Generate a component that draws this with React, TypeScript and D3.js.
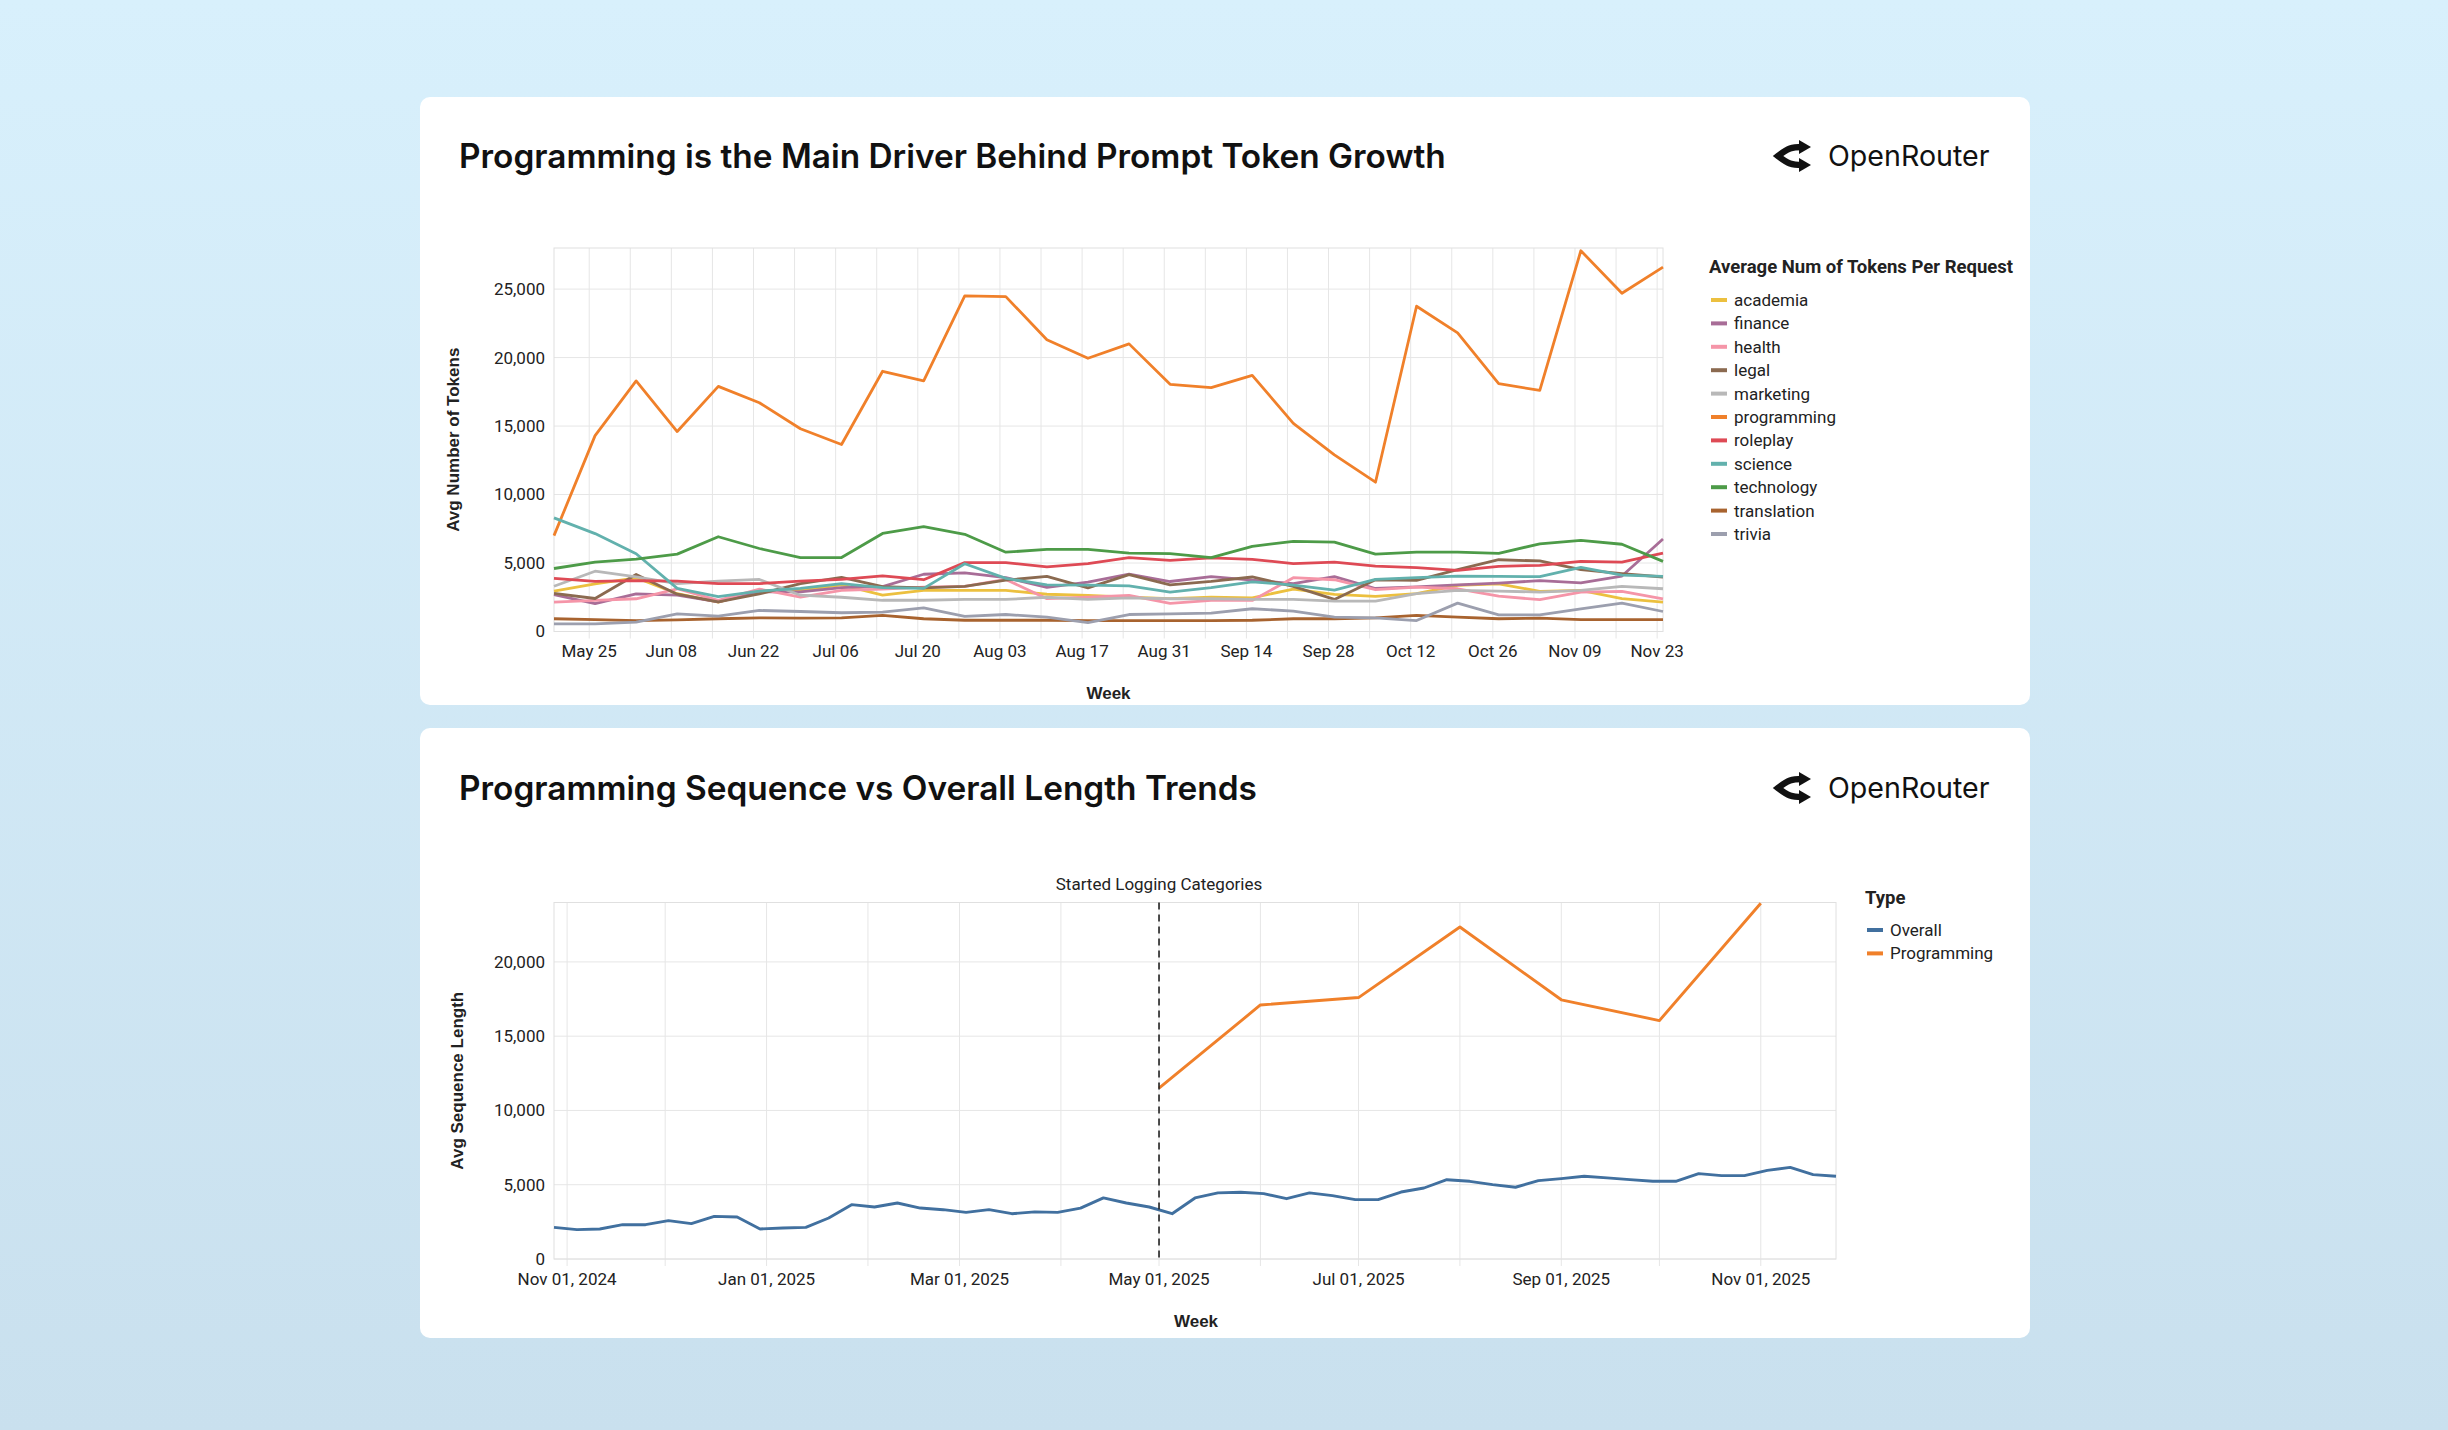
import React from "react";
import * as d3 from "d3";

// ---------- data: top chart (weekly, Monday starts) ----------
const topWeeks = [
  "2025-05-19", "2025-05-26", "2025-06-02", "2025-06-09", "2025-06-16", "2025-06-23", "2025-06-30",
  "2025-07-07", "2025-07-14", "2025-07-21", "2025-07-28", "2025-08-04", "2025-08-11", "2025-08-18",
  "2025-08-25", "2025-09-01", "2025-09-08", "2025-09-15", "2025-09-22", "2025-09-29", "2025-10-06",
  "2025-10-13", "2025-10-20", "2025-10-27", "2025-11-03", "2025-11-10", "2025-11-17", "2025-11-24",
];

const categories = [
  "academia", "finance", "health", "legal", "marketing", "programming",
  "roleplay", "science", "technology", "translation", "trivia",
];

const categoryColors = [
  "#ecc03f", "#a86d97", "#f595a8", "#8b6a50", "#b8b8b8", "#f0802a",
  "#de4a55", "#62b1ad", "#4d9b48", "#a8632f", "#9c9fae",
];

const academia = [2950, 3480, 3920, 2760, 2150, 3000, 3000, 3400, 2650, 3000, 3000, 3000, 2720, 2640, 2500, 2400, 2500, 2460, 3100, 2710, 2560, 2760, 3370, 3480, 2930, 3000, 2400, 2150];
const finance = [2700, 2030, 2750, 2650, 2170, 2900, 2900, 3200, 3280, 4180, 4280, 3930, 3220, 3600, 4190, 3650, 4000, 3750, 3500, 4000, 3140, 3260, 3400, 3530, 3710, 3550, 4050, 6750];
const health = [2150, 2270, 2390, 3120, 2270, 3100, 2510, 3000, 3100, 3240, 3290, 3800, 2400, 2500, 2630, 2050, 2270, 2270, 3930, 3780, 3050, 3240, 3120, 2590, 2320, 2880, 2930, 2390];
const legal = [2780, 2410, 4160, 2720, 2170, 2740, 3500, 3950, 3280, 3180, 3300, 3750, 4020, 3180, 4150, 3410, 3660, 3980, 3290, 2340, 3780, 3730, 4510, 5240, 5150, 4510, 4220, 3980];
const marketing = [3300, 4400, 3980, 3500, 3680, 3800, 2650, 2500, 2280, 2280, 2340, 2340, 2500, 2340, 2450, 2390, 2390, 2340, 2340, 2220, 2220, 2760, 3000, 2950, 2880, 3000, 3290, 3120];
const programming = [7000, 14300, 18300, 14600, 17900, 16700, 14800, 13650, 19000, 18300, 24500, 24450, 21300, 19950, 21000, 18050, 17800, 18700, 15200, 12900, 10900, 23750, 21800, 18100, 17600, 27800, 24700, 26600];
const roleplay = [3880, 3660, 3720, 3680, 3500, 3500, 3680, 3800, 4060, 3780, 5030, 5030, 4720, 4950, 5390, 5200, 5370, 5270, 4950, 5070, 4780, 4660, 4460, 4760, 4830, 5120, 5070, 5730];
const science = [8300, 7150, 5680, 3150, 2550, 2950, 3150, 3500, 3200, 3150, 4950, 3880, 3400, 3380, 3330, 2870, 3200, 3630, 3390, 3020, 3800, 3930, 4040, 4030, 4000, 4680, 4120, 4020];
const technology = [4600, 5060, 5280, 5650, 6920, 6060, 5400, 5400, 7160, 7650, 7100, 5790, 6000, 5990, 5720, 5680, 5400, 6220, 6580, 6520, 5650, 5800, 5800, 5700, 6400, 6650, 6370, 5120];
const translation = [930, 860, 800, 850, 930, 1000, 980, 1000, 1170, 930, 820, 820, 820, 800, 800, 800, 800, 820, 930, 930, 1000, 1170, 1050, 930, 980, 860, 860, 860];
const trivia = [560, 560, 680, 1290, 1120, 1540, 1460, 1370, 1410, 1730, 1100, 1240, 1050, 650, 1240, 1290, 1340, 1660, 1490, 1050, 1000, 800, 2070, 1220, 1220, 1660, 2070, 1460];

const categorySeries = [academia, finance, health, legal, marketing, programming, roleplay, science, technology, translation, trivia];

const topYTicks = [0, 5000, 10000, 15000, 20000, 25000];

// ---------- data: bottom chart ----------
const overallWeeks = [
  "2024-10-28", "2024-11-04", "2024-11-11", "2024-11-18", "2024-11-25", "2024-12-02", "2024-12-09",
  "2024-12-16", "2024-12-23", "2024-12-30", "2025-01-06", "2025-01-13", "2025-01-20", "2025-01-27",
  "2025-02-03", "2025-02-10", "2025-02-17", "2025-02-24", "2025-03-03", "2025-03-10", "2025-03-17",
  "2025-03-24", "2025-03-31", "2025-04-07", "2025-04-14", "2025-04-21", "2025-04-28", "2025-05-05",
  "2025-05-12", "2025-05-19", "2025-05-26", "2025-06-02", "2025-06-09", "2025-06-16", "2025-06-23",
  "2025-06-30", "2025-07-07", "2025-07-14", "2025-07-21", "2025-07-28", "2025-08-04", "2025-08-11",
  "2025-08-18", "2025-08-25", "2025-09-01", "2025-09-08", "2025-09-15", "2025-09-22", "2025-09-29",
  "2025-10-06", "2025-10-13", "2025-10-20", "2025-10-27", "2025-11-03", "2025-11-10", "2025-11-17",
  "2025-11-24",
];
const overallValues = [
  2130, 1980, 2020, 2310, 2310, 2580, 2380, 2870, 2830, 2020, 2090, 2130, 2760, 3660, 3500, 3770,
  3430, 3320, 3140, 3320, 3050, 3170, 3140, 3430, 4110, 3770, 3500, 3050, 4110, 4450, 4490, 4400,
  4060, 4450, 4270, 4000, 4000, 4510, 4780, 5340, 5230, 5010, 4830, 5280, 5410, 5570, 5460, 5340,
  5230, 5230, 5750, 5610, 5610, 5970, 6170, 5680, 5570,
];
const progMonths = ["2025-05-01", "2025-06-01", "2025-07-01", "2025-08-01", "2025-09-01", "2025-10-01", "2025-11-01"];
const progValues = [11500, 17100, 17600, 22350, 17450, 16050, 23950];

const typeNames = ["Overall", "Programming"];
const typeColors = ["#41709f", "#f0802a"];
const botYTicks = [0, 5000, 10000, 15000, 20000];
const loggingStart = "2025-05-01";

const parse = d3.timeParse("%Y-%m-%d");
const fmt = d3.format(",");
const GRID = "#e6e6e6";
const TICK_FONT = "Roboto, 'Liberation Sans', sans-serif";
const TITLE_FONT = "Inter, 'Liberation Sans', sans-serif";
const AXIS_TITLE_FONT = "'Liberation Sans', Arial, sans-serif";

function Logo({ x, y }: { x: number; y: number }) {
  // OpenRouter mark + wordmark
  return (
    <g>
      <path
        d={`M${x + 30} ${y - 9} C${x + 20} ${y - 9} ${x + 16} ${y - 8} ${x + 6} ${y} C${x + 16} ${y + 8} ${x + 20} ${y + 9} ${x + 30} ${y + 9}`}
        fill="none"
        stroke="#111"
        strokeWidth={6.5}
        strokeLinejoin="miter"
      />
      <path d={`M${x + 27} ${y - 16} L${x + 39} ${y - 9} L${x + 27} ${y - 2} Z`} fill="#111" />
      <path d={`M${x + 27} ${y + 2} L${x + 39} ${y + 9} L${x + 27} ${y + 16} Z`} fill="#111" />
      <text x={x + 56} y={y + 10} fontFamily={TITLE_FONT} fontSize={28.6} fill="#111">
        OpenRouter
      </text>
    </g>
  );
}

function TopChart() {
  const left = 554, right = 1663, top = 248, bottom = 631.5;
  const x = d3.scaleTime().domain([parse(topWeeks[0])!, parse(topWeeks[topWeeks.length - 1])!]).range([left, right]);
  const y = d3.scaleLinear().domain([0, 28000]).range([bottom, top]);
  const dates = topWeeks.map((d) => parse(d)!);
  const sundays = d3.timeSunday.range(x.domain()[0], d3.timeDay.offset(x.domain()[1], 1));
  const line = d3.line<number>().x((_, i) => x(dates[i])).y((v) => y(v));
  const fmtWeek = d3.timeFormat("%b %d");

  return (
    <g>
      {topYTicks.map((t) => (
        <line key={"hy" + t} x1={left} x2={right} y1={y(t)} y2={y(t)} stroke={GRID} />
      ))}
      {sundays.map((d, i) => (
        <line key={"vx" + i} x1={x(d)} x2={x(d)} y1={top} y2={bottom + 7} stroke={GRID} />
      ))}
      <rect x={left} y={top} width={right - left} height={bottom - top} fill="none" stroke="#e0e0e0" />
      {topYTicks.map((t) => (
        <text key={"ty" + t} x={left - 9} y={y(t)} dy="0.35em" textAnchor="end" fontFamily={TICK_FONT} fontSize={17} fill="#222">
          {fmt(t)}
        </text>
      ))}
      {sundays.map((d, i) =>
        i % 2 === 0 ? (
          <text key={"tx" + i} x={x(d)} y={657} textAnchor="middle" fontFamily={TICK_FONT} fontSize={17} fill="#222">
            {fmtWeek(d)}
          </text>
        ) : null
      )}
      {categorySeries.map((s, i) => (
        <path key={categories[i]} d={line(s)!} fill="none" stroke={categoryColors[i]} strokeWidth={2.8} strokeLinejoin="round" />
      ))}
      <text
        transform={`translate(459,${(top + bottom) / 2}) rotate(-90)`}
        textAnchor="middle"
        fontFamily={AXIS_TITLE_FONT}
        fontWeight={700}
        fontSize={17}
        fill="#222"
      >
        Avg Number of Tokens
      </text>
      <text x={(left + right) / 2} y={699} textAnchor="middle" fontFamily={AXIS_TITLE_FONT} fontWeight={700} fontSize={17} fill="#222">
        Week
      </text>
      <text x={1709} y={273} fontFamily={TICK_FONT} fontWeight={700} fontSize={18.5} fill="#222">
        Average Num of Tokens Per Request
      </text>
      {categories.map((c, i) => {
        const cy = 300 + i * 23.4;
        return (
          <g key={"lg" + c}>
            <line x1={1711} x2={1727} y1={cy} y2={cy} stroke={categoryColors[i]} strokeWidth={4} />
            <text x={1734} y={cy} dy="0.35em" fontFamily={TICK_FONT} fontSize={17} fill="#222">
              {c}
            </text>
          </g>
        );
      })}
    </g>
  );
}

function BottomChart() {
  const left = 554, right = 1836, top = 902.5, bottom = 1259;
  const x = d3.scaleTime().domain([parse(overallWeeks[0])!, parse(overallWeeks[overallWeeks.length - 1])!]).range([left, right]);
  const y = d3.scaleLinear().domain([0, 24000]).range([bottom, top]);
  const months = d3.timeMonth.range(x.domain()[0], d3.timeDay.offset(x.domain()[1], 1));
  const fmtMonth = d3.timeFormat("%b %d, %Y");
  const ovDates = overallWeeks.map((d) => parse(d)!);
  const prDates = progMonths.map((d) => parse(d)!);
  const ovLine = d3.line<number>().x((_, i) => x(ovDates[i])).y((v) => y(v));
  const prLine = d3.line<number>().x((_, i) => x(prDates[i])).y((v) => y(v));
  const lx = x(parse(loggingStart)!);

  return (
    <g>
      {botYTicks.map((t) => (
        <line key={"hy" + t} x1={left} x2={right} y1={y(t)} y2={y(t)} stroke={GRID} />
      ))}
      {months.map((d, i) => (
        <line key={"vx" + i} x1={x(d)} x2={x(d)} y1={top} y2={bottom + 7} stroke={GRID} />
      ))}
      <rect x={left} y={top} width={right - left} height={bottom - top} fill="none" stroke="#e0e0e0" />
      {botYTicks.map((t) => (
        <text key={"ty" + t} x={left - 9} y={y(t)} dy="0.35em" textAnchor="end" fontFamily={TICK_FONT} fontSize={17} fill="#222">
          {fmt(t)}
        </text>
      ))}
      {months.map((d, i) =>
        i % 2 === 0 ? (
          <text key={"tx" + i} x={x(d)} y={1285} textAnchor="middle" fontFamily={TICK_FONT} fontSize={17} fill="#222">
            {fmtMonth(d)}
          </text>
        ) : null
      )}
      <path d={ovLine(overallValues)!} fill="none" stroke={typeColors[0]} strokeWidth={2.9} strokeLinejoin="round" />
      <path d={prLine(progValues)!} fill="none" stroke={typeColors[1]} strokeWidth={2.9} strokeLinejoin="round" />
      <line x1={lx} x2={lx} y1={top} y2={bottom} stroke="#222" strokeWidth={1.6} strokeDasharray="7,5" />
      <text x={lx} y={890} textAnchor="middle" fontFamily={TICK_FONT} fontSize={17} fill="#222">
        Started Logging Categories
      </text>
      <text
        transform={`translate(463,${(top + bottom) / 2}) rotate(-90)`}
        textAnchor="middle"
        fontFamily={AXIS_TITLE_FONT}
        fontWeight={700}
        fontSize={17}
        fill="#222"
      >
        Avg Sequence Length
      </text>
      <text x={1196} y={1327} textAnchor="middle" fontFamily={AXIS_TITLE_FONT} fontWeight={700} fontSize={17} fill="#222">
        Week
      </text>
      <text x={1865} y={904} fontFamily={TICK_FONT} fontWeight={700} fontSize={18.5} fill="#222">
        Type
      </text>
      {typeNames.map((n, i) => {
        const cy = 930 + i * 23.4;
        return (
          <g key={"lt" + n}>
            <line x1={1867} x2={1883} y1={cy} y2={cy} stroke={typeColors[i]} strokeWidth={4} />
            <text x={1890} y={cy} dy="0.35em" fontFamily={TICK_FONT} fontSize={17} fill="#222">
              {n}
            </text>
          </g>
        );
      })}
    </g>
  );
}

export default function App() {
  return (
    <svg
      width={2448}
      height={1430}
      style={{ position: "absolute", left: 0, top: 0, display: "block" }}
      xmlns="http://www.w3.org/2000/svg"
    >
      <defs>
        <linearGradient id="bg" x1="0" y1="0" x2="0" y2="1">
          <stop offset="0%" stopColor="#d8f0fc" />
          <stop offset="100%" stopColor="#c9e0ee" />
        </linearGradient>
      </defs>
      <rect x={0} y={0} width={2448} height={1430} fill="url(#bg)" />
      <rect x={420} y={97} width={1610} height={608} rx={10} fill="#fff" />
      <rect x={420} y={728} width={1610} height={610} rx={10} fill="#fff" />
      <text x={459} y={168} fontFamily={TITLE_FONT} fontWeight={600} fontSize={33.4} fill="#111">
        Programming is the Main Driver Behind Prompt Token Growth
      </text>
      <text x={459} y={800} fontFamily={TITLE_FONT} fontWeight={600} fontSize={33.4} fill="#111">
        Programming Sequence vs Overall Length Trends
      </text>
      <Logo x={1772} y={156} />
      <Logo x={1772} y={788} />
      <TopChart />
      <BottomChart />
    </svg>
  );
}
